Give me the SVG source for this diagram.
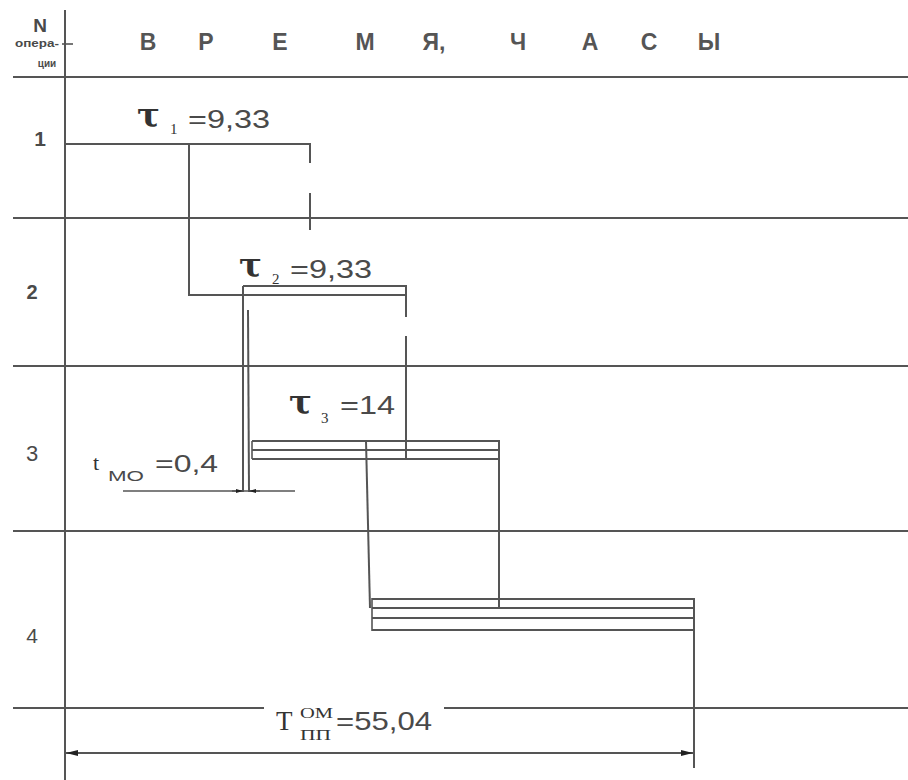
<svg xmlns="http://www.w3.org/2000/svg" width="908" height="780" viewBox="0 0 908 780">
<style>
.ln{stroke:#555;stroke-width:2;fill:none}
.th{stroke:#555;stroke-width:1.6;fill:none}
.s{font-family:"Liberation Sans",Arial,sans-serif;fill:#4a4a4a}
.r{font-family:"Liberation Serif","Times New Roman",serif;fill:#333}
.tau{font-family:"DejaVu Serif","Liberation Serif",serif;fill:#333;font-size:34px;font-weight:bold}
.hd{font-family:"Liberation Sans",Arial,sans-serif;fill:#555;font-size:23px;font-weight:bold}
</style>
<defs>
<marker id="ar" viewBox="0 0 12 6" refX="12" refY="3" markerWidth="12" markerHeight="6" markerUnits="userSpaceOnUse" orient="auto">
<path d="M0,0 L12,3 L0,6 Z" fill="#222"/>
</marker>
<marker id="as" viewBox="0 0 7 4" refX="7" refY="2" markerWidth="7" markerHeight="4" markerUnits="userSpaceOnUse" orient="auto">
<path d="M0,0 L7,2 L0,4 Z" fill="#222"/>
</marker>
</defs>
<rect width="908" height="780" fill="#fff"/>
<g id="grid">
<line class="ln" x1="65" y1="10" x2="65" y2="780"/>
<line class="ln" x1="13" y1="77" x2="908" y2="77"/>
<line class="ln" x1="13" y1="218" x2="908" y2="218"/>
<line class="ln" x1="13" y1="366" x2="908" y2="366"/>
<line class="ln" x1="13" y1="531" x2="908" y2="531"/>
<line class="ln" x1="13" y1="708" x2="264" y2="708"/>
<line class="ln" x1="444" y1="708" x2="908" y2="708"/>
<line class="th" x1="62" y1="44" x2="73" y2="44"/>
</g>
<g id="header">
<text class="s" x="40" y="32" font-size="19" font-weight="bold" text-anchor="middle">N</text>
<text class="s" x="37" y="47" font-size="10" font-weight="bold" text-anchor="middle" textLength="44" lengthAdjust="spacingAndGlyphs">опера-</text>
<text class="s" x="47" y="67" font-size="10" font-weight="bold" text-anchor="middle">ции</text>
<text class="hd" x="148" y="50" text-anchor="middle">В</text>
<text class="hd" x="206" y="50" text-anchor="middle">Р</text>
<text class="hd" x="280" y="50" text-anchor="middle">Е</text>
<text class="hd" x="365" y="50" text-anchor="middle">М</text>
<text class="hd" x="434" y="50" text-anchor="middle">Я,</text>
<text class="hd" x="518" y="50" text-anchor="middle">Ч</text>
<text class="hd" x="590" y="50" text-anchor="middle">А</text>
<text class="hd" x="649" y="50" text-anchor="middle">С</text>
<text class="hd" x="709" y="50" text-anchor="middle">Ы</text>
</g>
<g id="rows">
<text class="s" x="40" y="146" font-size="21" font-weight="bold" text-anchor="middle">1</text>
<text class="s" x="32" y="299" font-size="20" font-weight="bold" text-anchor="middle">2</text>
<text class="s" x="32" y="461" font-size="22" text-anchor="middle">3</text>
<text class="s" x="32" y="643" font-size="21" text-anchor="middle">4</text>
</g>
<g id="op1">
<text class="tau" x="137" y="127">τ</text>
<text class="r" x="170" y="134" font-size="15">1</text>
<text class="s" x="188" y="128" font-size="25" textLength="82" lengthAdjust="spacingAndGlyphs">=9,33</text>
<line class="ln" x1="65" y1="144" x2="310" y2="144"/>
<line class="ln" x1="310" y1="143" x2="310" y2="163"/>
<line class="ln" x1="310" y1="193" x2="310" y2="230"/>
</g>
<g id="op2">
<text class="tau" x="239" y="277">τ</text>
<text class="r" x="272" y="284" font-size="15">2</text>
<text class="s" x="290" y="278" font-size="25" textLength="82" lengthAdjust="spacingAndGlyphs">=9,33</text>
<polyline class="ln" points="189,144 189,295 406,295"/>
<polyline class="ln" points="243,286 406,286 406,317"/>
<line class="ln" x1="406" y1="336" x2="406" y2="460"/>
</g>
<g id="op3">
<text class="tau" x="289" y="414">τ</text>
<text class="r" x="321" y="423" font-size="15">3</text>
<text class="s" x="340" y="414" font-size="25" textLength="55" lengthAdjust="spacingAndGlyphs">=14</text>
<line class="ln" x1="243" y1="286" x2="243" y2="492"/>
<line class="ln" x1="248" y1="310" x2="249" y2="492"/>
<line class="th" x1="252" y1="441" x2="252" y2="459"/>
<line class="ln" x1="252" y1="441" x2="499" y2="441"/>
<line class="ln" x1="252" y1="450" x2="499" y2="450"/>
<line class="ln" x1="252" y1="459" x2="499" y2="459"/>
<line class="ln" x1="499" y1="440" x2="499" y2="609"/>
</g>
<g id="op4">
<line class="ln" x1="366" y1="441" x2="370" y2="608"/>
<line class="th" x1="372" y1="598" x2="372" y2="631"/>
<line class="ln" x1="372" y1="599" x2="694" y2="599"/>
<line class="ln" x1="372" y1="608" x2="694" y2="608"/>
<line class="ln" x1="372" y1="618" x2="694" y2="618"/>
<line class="ln" x1="372" y1="630" x2="694" y2="630"/>
<line class="ln" x1="694" y1="598" x2="694" y2="768"/>
</g>
<g id="connectors">
<line class="th" x1="123" y1="491" x2="295" y2="491"/>
<line class="th" x1="232" y1="491" x2="243" y2="491" marker-end="url(#as)"/>
<line class="th" x1="260" y1="491" x2="249" y2="491" marker-end="url(#as)"/>
<line class="ln" x1="80" y1="753" x2="680" y2="753"/>
<line class="ln" x1="92" y1="753" x2="66" y2="753" marker-end="url(#ar)"/>
<line class="ln" x1="668" y1="753" x2="693" y2="753" marker-end="url(#ar)"/>
</g>
<g id="labels">
<text class="r" x="93" y="470" font-size="22">t</text>
<text class="s" x="108" y="481" font-size="15" textLength="36" lengthAdjust="spacingAndGlyphs">МО</text>
<text class="s" x="155" y="472" font-size="24" textLength="63" lengthAdjust="spacingAndGlyphs">=0,4</text>
<text class="r" x="276" y="730" font-size="27">T</text>
<text class="r" x="300" y="718" font-size="15" textLength="33" lengthAdjust="spacingAndGlyphs">ОМ</text>
<text class="r" x="300" y="740" font-size="15" textLength="31" lengthAdjust="spacingAndGlyphs">ПП</text>
<text class="s" x="336" y="730" font-size="25" textLength="96" lengthAdjust="spacingAndGlyphs">=55,04</text>
</g>
</svg>
